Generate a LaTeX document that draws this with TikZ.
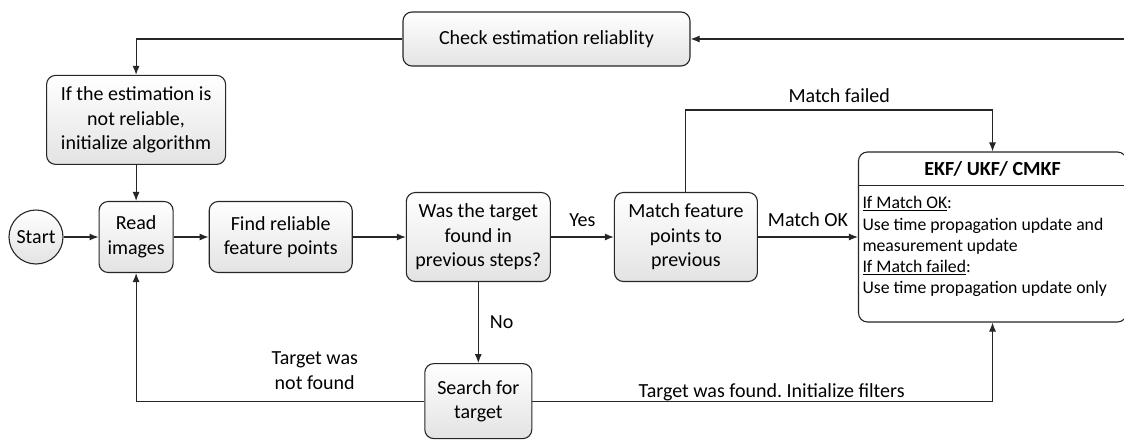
\documentclass[tikz,border=0pt]{standalone}
\usepackage{fontspec}
\setmainfont{Carlito}
\usepackage{tikz}
\usetikzlibrary{arrows.meta,positioning,calc}
\frenchspacing
\newcommand{\flowfont}{\fontsize{20}{24.5}\selectfont}
\newcommand{\bodyfont}{\fontsize{17.7}{21.3}\selectfont}
\tikzset{
  >={Latex[length=9pt,width=7pt]},
  every picture/.append style={line width=1.1pt},
  every node/.append style={font=\flowfont},
}
\tikzset{
  proc/.style={draw=black!85, rounded corners=9pt, align=center, top color=white, bottom color=black!11, inner sep=2pt},
  filter/.style={draw=black!85, rounded corners=9pt, fill=white},
  arrow/.style={->, draw=black!85},
  lbl/.style={align=center, inner sep=2pt}
}

\begin{document}
\begin{tikzpicture}[x=1pt, y=1pt]
\useasboundingbox (0,0) rectangle (1124,-439);

% Main row - left to right
\node[proc, circle, minimum size=54pt, inner sep=0pt] (start) at (36,-237) {Start};
\node[proc, minimum width=74pt, minimum height=71pt, right=35pt of start] (read) {Read\\images};
\node[proc, minimum width=143pt, minimum height=71pt, right=35pt of read] (find) {Find reliable\\feature points};
\node[proc, minimum width=144pt, minimum height=89pt, right=53pt of find] (target) {Was the target\\found in\\previous steps?};
\node[proc, minimum width=143pt, minimum height=89pt, right=63pt of target] (match) {Match feature\\points to\\previous};
\node[filter, minimum width=268pt, minimum height=170pt, right=100pt of match] (ekf) {};

% Filter box - header and body
\node (ekfhead) at ($(ekf.north)+(0,-17)$) {\bfseries EKF/ UKF/ CMKF};
\draw[draw=black!85] ($(ekf.north west)+(0,-34)$) -- ($(ekf.north east)+(0,-34)$);
\node[anchor=north west, align=left, font=\bodyfont, inner sep=3pt] (ekfbody) at ($(ekf.north west)+(1,-41.5)$) {%
  \underline{If Match OK}:\\
  Use time propagation update and\\
  measurement update\\
  \underline{If Match failed}:\\
  Use time propagation update only};

% Upper and lower boxes
\node[proc, minimum width=179pt, minimum height=89pt, above=36pt of read] (init) {If the estimation is\\not reliable,\\initialize algorithm};
\node[proc, minimum width=287pt, minimum height=54pt] (check) at (546.5,-39) {Check estimation reliablity};
\node[proc, minimum width=107pt, minimum height=75pt, below=81pt of target] (search) {Search for\\target};

% Loose ends at the right border
\coordinate (edgeT) at (1124,-39);
\coordinate (edgeR) at (1124,-237);

% Forward arrows
\draw[arrow] (start) -- (read);
\draw[arrow] (read) -- (find);
\draw[arrow] (find) -- (target);
\draw[arrow] (target) -- node[lbl, above=8pt] {Yes} (match);
\draw[arrow] (match) -- node[lbl, above=8pt] {Match OK} (ekf);
\draw[arrow] (target) -- node[lbl, right=9pt] {No} (search);
\draw[arrow] (init) -- (read);

% Branches and loops
\draw[arrow] (match.north) -- ++(0,82) -| node[lbl, pos=0.25, above=5pt] {Match failed} (ekf.north);
\draw[arrow] (search.west) -| node[lbl, pos=0.19, above=9pt] {Target was\\not found} (read.south);
\draw[arrow] (search.east) -| node[lbl, pos=0.26, above=-2pt] {Target was found. Initialize filters} (ekf.south);
\draw[arrow] (check.west) -| (init.north);
\draw[arrow] (edgeT) -- (check.east);
\draw[draw=black!85] (ekf.east) -- (edgeR);

\end{tikzpicture}
\end{document}
